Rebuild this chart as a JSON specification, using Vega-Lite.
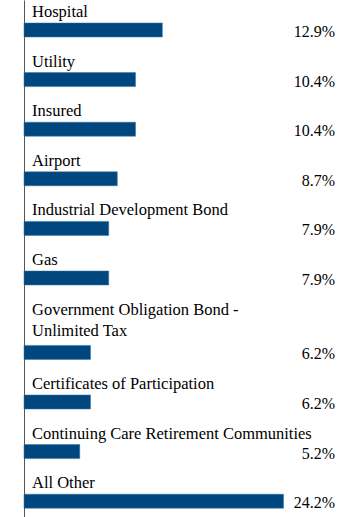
{
  "$schema": "https://vega.github.io/schema/vega-lite/v6.json",
  "width": 311,
  "height": {"step": 24.8},
  "autosize": "none",
  "padding": {"left": 24, "right": 0, "top": 0, "bottom": 0},
  "background": "white",
  "config": {"view": {"stroke": null}, "font": "Liberation Serif"},
  "params": [
    {"name": "slots", "value": [
      "Hospital|t1", "Hospital",
      "Utility|t1", "Utility",
      "Insured|t1", "Insured",
      "Airport|t1", "Airport",
      "Industrial Development Bond|t1", "Industrial Development Bond",
      "Gas|t1", "Gas",
      "Government Obligation Bond - Unlimited Tax|t1", "Government Obligation Bond - Unlimited Tax|t2", "Government Obligation Bond - Unlimited Tax",
      "Certificates of Participation|t1", "Certificates of Participation",
      "Continuing Care Retirement Communities|t1", "Continuing Care Retirement Communities",
      "All Other|t1", "All Other"
    ]}
  ],
  "data": {
    "values": [
      {"cat": "Hospital", "line1": "Hospital", "line2": null, "value": 12.9, "pct": "12.9%"},
      {"cat": "Utility", "line1": "Utility", "line2": null, "value": 10.4, "pct": "10.4%"},
      {"cat": "Insured", "line1": "Insured", "line2": null, "value": 10.4, "pct": "10.4%"},
      {"cat": "Airport", "line1": "Airport", "line2": null, "value": 8.7, "pct": "8.7%"},
      {"cat": "Industrial Development Bond", "line1": "Industrial Development Bond", "line2": null, "value": 7.9, "pct": "7.9%"},
      {"cat": "Gas", "line1": "Gas", "line2": null, "value": 7.9, "pct": "7.9%"},
      {"cat": "Government Obligation Bond - Unlimited Tax", "line1": "Government Obligation Bond -", "line2": "Unlimited Tax", "value": 6.2, "pct": "6.2%"},
      {"cat": "Certificates of Participation", "line1": "Certificates of Participation", "line2": null, "value": 6.2, "pct": "6.2%"},
      {"cat": "Continuing Care Retirement Communities", "line1": "Continuing Care Retirement Communities", "line2": null, "value": 5.2, "pct": "5.2%"},
      {"cat": "All Other", "line1": "All Other", "line2": null, "value": 24.2, "pct": "24.2%"}
    ]
  },
  "layer": [
    {
      "mark": {"type": "bar", "height": 14, "yOffset": -7.2, "color": "#00477f", "stroke": "#3a6f9c", "strokeWidth": 0.5},
      "encoding": {
        "y": {
          "field": "cat", "type": "nominal", "sort": null,
          "scale": {"domain": {"expr": "slots"}, "paddingInner": 0, "paddingOuter": 0},
          "axis": {"labels": false, "ticks": false, "title": null, "grid": false, "domainColor": "#555555", "domainWidth": 1}
        },
        "x": {"field": "value", "type": "quantitative", "scale": {"domain": [0, 29], "nice": false}, "axis": null}
      }
    },
    {
      "transform": [{"calculate": "datum.cat + '|t1'", "as": "slot"}],
      "mark": {"type": "text", "align": "left", "baseline": "alphabetic", "dx": 8, "dy": 4.6, "fontSize": 16.5, "color": "black"},
      "encoding": {
        "y": {"field": "slot", "type": "nominal", "sort": null},
        "x": {"datum": 0, "type": "quantitative"},
        "text": {"field": "line1"}
      }
    },
    {
      "transform": [{"filter": "datum.line2 != null"}, {"calculate": "datum.cat + '|t2'", "as": "slot"}],
      "mark": {"type": "text", "align": "left", "baseline": "alphabetic", "dx": 8, "dy": 1, "fontSize": 16.5, "color": "black"},
      "encoding": {
        "y": {"field": "slot", "type": "nominal", "sort": null},
        "x": {"datum": 0, "type": "quantitative"},
        "text": {"field": "line2"}
      }
    },
    {
      "mark": {"type": "text", "align": "right", "baseline": "alphabetic", "dy": -0.2, "fontSize": 16, "color": "black"},
      "encoding": {
        "y": {"field": "cat", "type": "nominal", "sort": null},
        "x": {"datum": 29, "type": "quantitative"},
        "text": {"field": "pct"}
      }
    }
  ]
}
